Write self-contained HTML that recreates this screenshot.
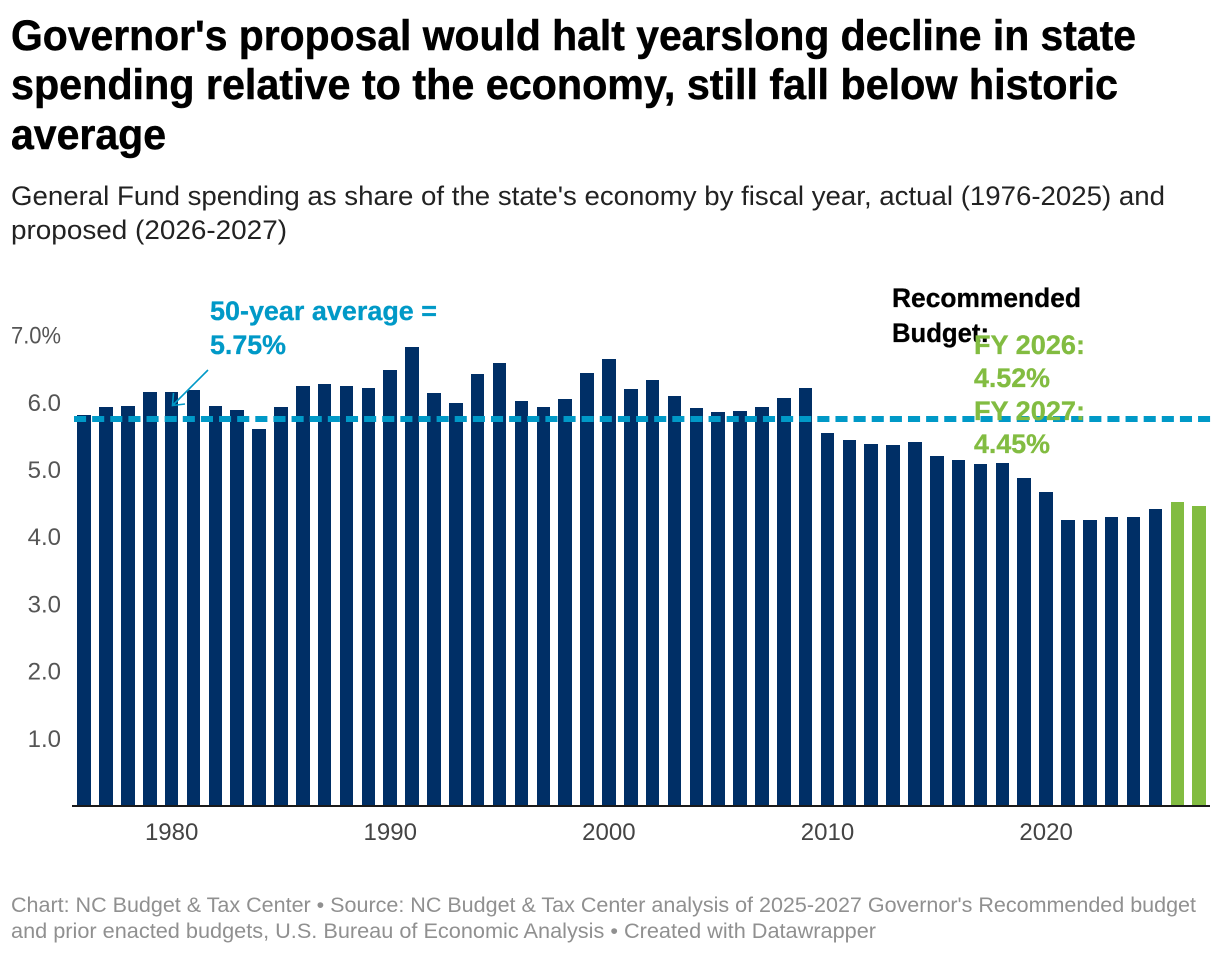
<!DOCTYPE html>
<html lang="en">
<head>
<meta charset="utf-8">
<title>State General Fund spending chart</title>
<style>
  html, body { margin: 0; padding: 0; background: #fff; }
  svg { display: block; font-family: "Liberation Sans", sans-serif; }
</style>
</head>
<body>
<svg id="chart" width="1220" height="954" viewBox="0 0 1220 954" xmlns="http://www.w3.org/2000/svg">
  <g font-size="43" font-weight="700" fill="#000" stroke="#000" stroke-width="0.5">
    <text x="11" y="50" textLength="1125" lengthAdjust="spacingAndGlyphs">Governor's proposal would halt yearslong decline in state</text>
    <text x="11" y="99" textLength="1107" lengthAdjust="spacingAndGlyphs">spending relative to the economy, still fall below historic</text>
    <text x="11" y="149" textLength="155" lengthAdjust="spacingAndGlyphs">average</text>
  </g>
  <g font-size="27" fill="#222">
    <text x="11" y="205" textLength="1154" lengthAdjust="spacingAndGlyphs">General Fund spending as share of the state's economy by fiscal year, actual (1976-2025) and</text>
    <text x="11" y="239" textLength="276" lengthAdjust="spacingAndGlyphs">proposed (2026-2027)</text>
  </g>
  <g id="y-axis"></g>
  <g id="bars"></g>
  <g id="x-axis"></g>
  <line id="avg-line" stroke="#0099c7" stroke-width="6" stroke-dasharray="12.09 6.04"></line>
  <g fill="none" stroke="#0099c7" stroke-width="1.6">
    <line x1="208" y1="370" x2="173" y2="405"></line>
    <polyline points="173.5,393 172.5,405.5 185,404"></polyline>
  </g>
  <g font-size="27" font-weight="700" fill="#0099c7" stroke="#0099c7" stroke-width="0.3">
    <text x="210" y="320" textLength="227" lengthAdjust="spacingAndGlyphs">50-year average =</text>
    <text x="210" y="354" textLength="76" lengthAdjust="spacingAndGlyphs">5.75%</text>
  </g>
  <g font-size="27" font-weight="700" fill="#000" stroke="#000" stroke-width="0.3">
    <text x="892" y="307" textLength="189" lengthAdjust="spacingAndGlyphs">Recommended</text>
    <text x="892" y="342" textLength="97" lengthAdjust="spacingAndGlyphs">Budget:</text>
  </g>
  <g font-size="27" font-weight="700" fill="#82bc41" stroke="#82bc41" stroke-width="0.3">
    <text x="974" y="354" textLength="111" lengthAdjust="spacingAndGlyphs">FY 2026:</text>
    <text x="974" y="387" textLength="76" lengthAdjust="spacingAndGlyphs">4.52%</text>
    <text x="974" y="420" textLength="111" lengthAdjust="spacingAndGlyphs">FY 2027:</text>
    <text x="974" y="453" textLength="76" lengthAdjust="spacingAndGlyphs">4.45%</text>
  </g>
  <g font-size="21" fill="#909090">
    <text x="11" y="912" textLength="1185" lengthAdjust="spacingAndGlyphs">Chart: NC Budget &amp; Tax Center • Source: NC Budget &amp; Tax Center analysis of 2025-2027 Governor's Recommended budget</text>
    <text x="11" y="938" textLength="865" lengthAdjust="spacingAndGlyphs">and prior enacted budgets, U.S. Bureau of Economic Analysis • Created with Datawrapper</text>
  </g>
</svg>
<script>
const years = [1976,1977,1978,1979,1980,1981,1982,1983,1984,1985,1986,1987,1988,1989,1990,1991,1992,1993,1994,1995,1996,1997,1998,1999,2000,2001,2002,2003,2004,2005,2006,2007,2008,2009,2010,2011,2012,2013,2014,2015,2016,2017,2018,2019,2020,2021,2022,2023,2024,2025,2026,2027];
const spendingShare = [5.81,5.93,5.95,6.15,6.15,6.18,5.95,5.89,5.60,5.93,6.24,6.27,6.24,6.21,6.48,6.82,6.14,5.99,6.42,6.58,6.02,5.93,6.05,6.43,6.64,6.20,6.33,6.09,5.92,5.86,5.87,5.93,6.06,6.21,5.54,5.44,5.38,5.36,5.41,5.20,5.14,5.08,5.10,4.87,4.67,4.25,4.25,4.29,4.29,4.41,4.52,4.45];
const proposedYears = [2026,2027];
const averageShare = 5.75;
const yTickValues = [1,2,3,4,5,6,7];
const xTickYears = [1980,1990,2000,2010,2020];

const NS = 'http://www.w3.org/2000/svg';
const plotLeft = 73.254, plotRight = 1210.078, zeroY = 805.5, pxPerUnit = 67.2, barFill = 0.6198;
const bandStep = (plotRight - plotLeft) / years.length;

function yScale(v) { return zeroY - v * pxPerUnit; }
function xCenter(i) { return plotLeft + (i + 0.5) * bandStep; }
function xOfYear(yr) { return xCenter(years.indexOf(yr)); }
function make(tag, attrs, parent) {
  const el = document.createElementNS(NS, tag);
  for (const k in attrs) el.setAttribute(k, attrs[k]);
  parent.appendChild(el);
  return el;
}

const barsGroup = document.getElementById('bars');
spendingShare.forEach(function (v, i) {
  const half = bandStep * barFill / 2;
  const x0 = Math.round(xCenter(i) - half);
  const x1 = Math.round(xCenter(i) + half);
  const top = Math.round(yScale(v));
  const proposed = proposedYears.indexOf(years[i]) !== -1;
  const bar = make('rect', { x: x0, y: top, width: x1 - x0, height: 805 - top, fill: proposed ? '#82bc41' : '#002f66' }, barsGroup);
  
  
});

const yAxisGroup = document.getElementById('y-axis');
yTickValues.forEach(function (v) {
  const isTop = v === yTickValues[yTickValues.length - 1];
  const label = make('text', { x: 61, y: yScale(v) + 8.5, 'text-anchor': 'end', 'font-size': 24, fill: '#555' }, yAxisGroup);
  if (isTop) {
    label.setAttribute('textLength', 50);
    label.setAttribute('lengthAdjust', 'spacingAndGlyphs');
  }
  label.textContent = v.toFixed(1) + (isTop ? '%' : '');
  
  
});

const xAxisGroup = document.getElementById('x-axis');
const axisLine = make('rect', { x: 72, y: 805, width: 1138, height: 2, fill: '#1a1a1a' }, xAxisGroup);


xTickYears.forEach(function (yr) {
  const label = make('text', { x: xOfYear(yr), y: 840, 'text-anchor': 'middle', 'font-size': 24, fill: '#444' }, xAxisGroup);
  label.textContent = String(yr);
  
  
});

const avgLine = document.getElementById('avg-line');
avgLine.setAttribute('x1', 74);
avgLine.setAttribute('x2', plotRight);
avgLine.setAttribute('y1', Math.round(yScale(averageShare)));
avgLine.setAttribute('y2', Math.round(yScale(averageShare)));
</script>
</body>
</html>
